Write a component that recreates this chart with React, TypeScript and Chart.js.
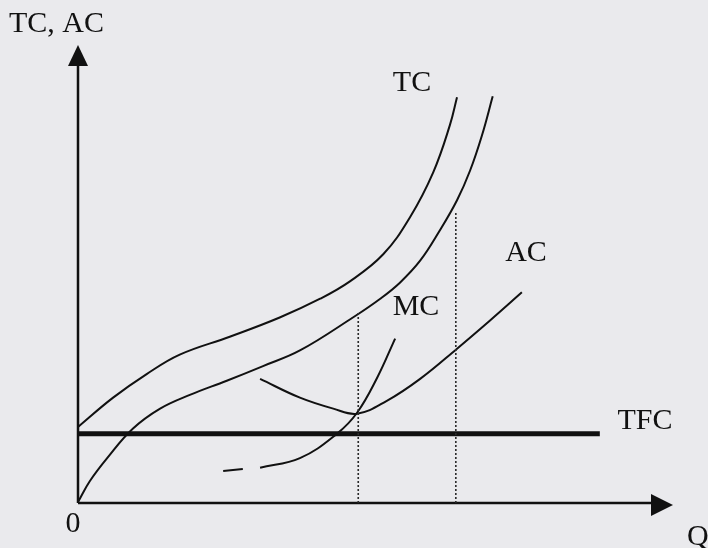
import React, { useEffect, useRef } from "react";
import { Chart, registerables } from "chart.js";

Chart.register(...registerables);

// Output quantity (Q) and cost values (arbitrary units 0..100)
const tcQ = [0, 5.9, 11.6, 17.1, 25.5, 33.9, 40.7, 45.7, 51.3, 55.8, 59.7, 62.5, 63.7];
const tcC = [16.6, 23.0, 28.2, 32.4, 36.3, 40.5, 44.6, 48.4, 54.3, 62.4, 72.2, 82.5, 88.6];

const tvcQ = [0, 2.0, 4.9, 9.2, 13.8, 18.8, 25.0, 31.1, 37.3, 46.2, 50.8, 54.1, 57.5, 60.8, 63.7, 65.9, 67.9, 69.7];
const tvcC = [0.2, 4.8, 9.8, 16.2, 20.6, 23.6, 26.7, 29.9, 33.3, 40.5, 44.6, 48.1, 52.9, 59.5, 66.1, 72.6, 80.3, 88.8];

const acQ = [30.6, 37.3, 42.9, 46.9, 51.9, 57.5, 63.7, 69.2, 74.6];
const acC = [27.1, 23.0, 20.6, 19.5, 22.3, 27.1, 33.7, 39.8, 46.0];

const mcQ = [30.6, 37.3, 43.5, 46.9, 50.3, 53.3];
const mcC = [7.7, 9.8, 15.1, 19.7, 27.4, 35.9];
const mcDashQ = [24.4, 27.7];
const mcDashC = [7.0, 7.4];

const tfcQ = [0, 87.7];
const tfcC = [15.1, 15.1];

const guideQ = [47.1, 63.5];
const guideTop = [41.6, 63.5];

const axisTitleY = "TC, AC";
const axisTitleX = "Q";
const originLabel = "0";
const curveLabels = ["TC", "MC", "AC", "TFC"];

const INK = "#111111";
const BG = "#eaeaed";
const FONT = "30px 'Liberation Serif', 'DejaVu Serif', serif";

const pts = (xs: number[], ys: number[]) => xs.map((x, i) => ({ x, y: ys[i] }));

const bgPlugin = {
  id: "bg",
  beforeDraw(chart: any) {
    const { ctx, width, height } = chart;
    ctx.save();
    ctx.fillStyle = BG;
    ctx.fillRect(0, 0, width, height);
    ctx.restore();
  },
};

const axesPlugin = {
  id: "axesArrows",
  beforeDatasetsDraw(chart: any) {
    const { ctx, chartArea } = chart;
    const { left, right, top, bottom } = chartArea;
    ctx.save();
    ctx.strokeStyle = INK;
    ctx.fillStyle = INK;
    ctx.lineWidth = 2.5;
    // y axis
    ctx.beginPath();
    ctx.moveTo(left, bottom);
    ctx.lineTo(left, top + 18);
    ctx.stroke();
    ctx.beginPath();
    ctx.moveTo(left, top);
    ctx.lineTo(left - 10, top + 21);
    ctx.lineTo(left + 10, top + 21);
    ctx.closePath();
    ctx.fill();
    // x axis
    ctx.beginPath();
    ctx.moveTo(left, bottom);
    ctx.lineTo(right - 18, bottom);
    ctx.stroke();
    ctx.beginPath();
    ctx.moveTo(right, bottom + 2);
    ctx.lineTo(right - 22, bottom - 9);
    ctx.lineTo(right - 22, bottom + 13);
    ctx.closePath();
    ctx.fill();
    ctx.restore();
  },
  afterDraw(chart: any) {
    const { ctx } = chart;
    ctx.save();
    ctx.fillStyle = INK;
    ctx.font = FONT;
    ctx.textBaseline = "middle";
    ctx.textAlign = "left";
    ctx.fillText(axisTitleY, 9, 24);
    ctx.fillText(axisTitleX, 687, 537);
    ctx.textAlign = "center";
    ctx.fillText(originLabel, 73, 524);
    const pos = [
      [412, 83],
      [416, 307],
      [526, 253],
      [645, 421],
    ];
    curveLabels.forEach((t, i) => ctx.fillText(t, pos[i][0], pos[i][1]));
    ctx.restore();
  },
};

export default function App() {
  const ref = useRef<HTMLCanvasElement | null>(null);

  useEffect(() => {
    document.body.style.margin = "0";
    document.body.style.background = BG;
    const canvas = ref.current;
    if (!canvas) return;
    const curve = (data: any[], width = 2) => ({
      data,
      showLine: true,
      borderColor: INK,
      borderWidth: width,
      pointRadius: 0,
      tension: 0.4,
      fill: false,
    });
    const guides = guideQ.map((q, i) => ({
      data: [
        { x: q, y: 0 },
        { x: q, y: guideTop[i] },
      ],
      showLine: true,
      borderColor: "#2a2a2a",
      borderWidth: 1.6,
      borderDash: [2, 2],
      pointRadius: 0,
      fill: false,
    }));
    const chart = new Chart(canvas, {
      type: "scatter",
      data: {
        datasets: [
          ...guides,
          curve(pts(tcQ, tcC)),
          curve(pts(tvcQ, tvcC)),
          curve(pts(acQ, acC)),
          curve(pts(mcQ, mcC)),
          curve(pts(mcDashQ, mcDashC)),
          { ...curve(pts(tfcQ, tfcC), 5), tension: 0 },
        ],
      },
      options: {
        animation: false,
        responsive: false,
        devicePixelRatio: 1,
        layout: { padding: { left: 78, right: 35, top: 45, bottom: 45 } },
        plugins: {
          legend: { display: false },
          tooltip: { enabled: false },
        },
        scales: {
          x: { type: "linear", min: 0, max: 100, display: false },
          y: { type: "linear", min: 0, max: 100, display: false },
        },
      },
      plugins: [bgPlugin, axesPlugin],
    });
    return () => chart.destroy();
  }, []);

  return (
    <div style={{ position: "fixed", left: 0, top: 0, width: 708, height: 548, background: BG }}>
      <canvas ref={ref} width={708} height={548} style={{ display: "block" }} />
    </div>
  );
}
